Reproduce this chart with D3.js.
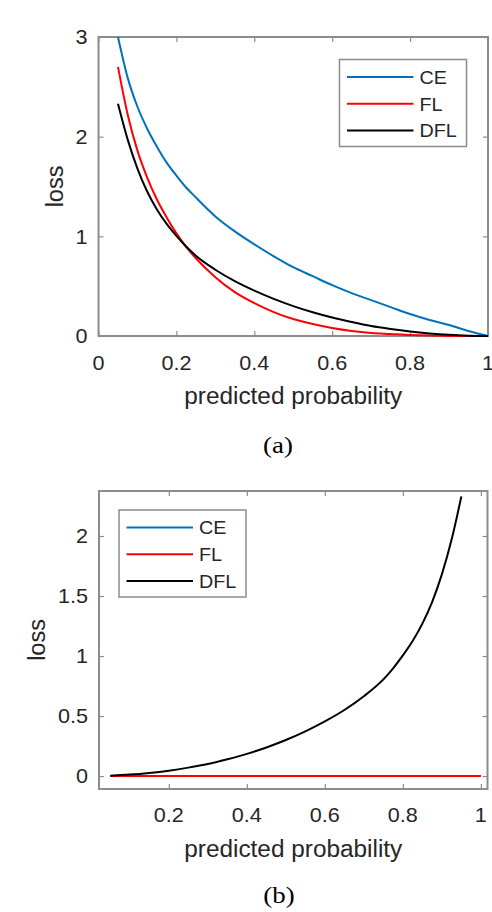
<!DOCTYPE html>
<html><head><meta charset="utf-8">
<script src="https://cdn.jsdelivr.net/npm/d3@7"></script>
<style>body{margin:0;background:#fff} svg{display:block}</style>
</head><body>
<svg id="chart" width="492" height="912"></svg>
<script>
// ---- data ----
const seriesNames = ["CE", "FL", "DFL"];
const seriesColors = ["#0072BD", "#FF0000", "#000000"];

// panel (a)
const probA = [0.05,0.075,0.1,0.125,0.15,0.175,0.2,0.225,0.25,0.3,0.35,0.4,0.45,0.5,0.55,0.6,0.65,0.7,0.75,0.8,0.85,0.9,0.95,1.0];
const ceA   = [3.00,2.59,2.30,2.08,1.90,1.74,1.61,1.49,1.39,1.20,1.05,0.92,0.80,0.69,0.60,0.51,0.43,0.36,0.29,0.22,0.16,0.11,0.05,0.00];
const flA   = [2.70,2.22,1.86,1.59,1.37,1.19,1.03,0.895,0.78,0.59,0.44,0.33,0.24,0.17,0.12,0.08,0.05,0.03,0.02,0.01,0.004,0.001,0.0,0.0];
const dflA  = [2.33,1.97,1.68,1.45,1.27,1.125,1.005,0.898,0.805,0.665,0.55,0.455,0.372,0.30,0.238,0.185,0.14,0.10,0.07,0.045,0.026,0.012,0.003,0.0];

// panel (b)
const probB = [0.05,0.1,0.15,0.2,0.25,0.3,0.35,0.4,0.45,0.5,0.55,0.6,0.65,0.7,0.75,0.775,0.8,0.825,0.85,0.875,0.9,0.925,0.95,1.0];
const ceB   = [0,0,0,0,0,0,0,0,0,0,0,0,0,0,0,0,0,0,0,0,0,0,0,0];
const flB   = [0,0,0,0,0,0,0,0,0,0,0,0,0,0,0,0,0,0,0,0,0,0,0,0];
const dflB  = [0.003,0.012,0.026,0.045,0.07,0.10,0.14,0.185,0.238,0.30,0.372,0.455,0.55,0.665,0.805,0.898,1.005,1.125,1.27,1.45,1.68,1.97,2.33,null];

const xTicksA = [0, 0.2, 0.4, 0.6, 0.8, 1];
const yTicksA = [0, 1, 2, 3];
const xTicksB = [0.2, 0.4, 0.6, 0.8, 1];
const yTicksB = [0, 0.5, 1, 1.5, 2];
const xLabel = "predicted probability";
const yLabel = "loss";
const captions = ["(a)", "(b)"];

// ---- drawing ----
const svg = d3.select("#chart");
const SANS = "'Liberation Sans', Arial, Helvetica, sans-serif";
const SERIF = "'Liberation Serif', 'Times New Roman', serif";
const AXIS_COLOR = "#8c8c8c";
const TEXT_COLOR = "#262626";

function label(g, x, y, txt, opts) {
  const o = Object.assign({size: 20, sx: 1.0, anchor: "middle", rot: 0, font: SANS, dy: "0", color: TEXT_COLOR}, opts || {});
  g.append("text")
    .attr("transform", `translate(${x},${y}) rotate(${o.rot}) scale(${o.sx},1)`)
    .attr("text-anchor", o.anchor)
    .attr("dy", o.dy)
    .attr("font-family", o.font)
    .attr("font-size", o.size)
    .attr("fill", o.color)
    .text(txt);
}

function fmt(v) { return d3.format("~g")(v); }

function panel(cfg) {
  const g = svg.append("g");
  const x = d3.scaleLinear().domain(cfg.xDomain).range([cfg.left, cfg.right]);
  const y = d3.scaleLinear().domain(cfg.yDomain).range([cfg.bottom, cfg.top]);

  // ticks on all four sides (inward)
  const tk = 5;
  const mk = (axis, tr) => g.append("g").attr("transform", tr).call(axis)
      .call(s => { s.select(".domain").remove(); s.selectAll("text").remove();
                   s.selectAll("line").attr("stroke", AXIS_COLOR).attr("stroke-width", 1.2); });
  mk(d3.axisBottom(x).tickValues(cfg.xTicks).tickSizeInner(-tk).tickSizeOuter(0), `translate(0,${cfg.bottom})`);
  mk(d3.axisTop(x).tickValues(cfg.xTicks).tickSizeInner(-tk).tickSizeOuter(0), `translate(0,${cfg.top})`);
  mk(d3.axisLeft(y).tickValues(cfg.yTicks).tickSizeInner(-tk).tickSizeOuter(0), `translate(${cfg.left},0)`);
  mk(d3.axisRight(y).tickValues(cfg.yTicks).tickSizeInner(-tk).tickSizeOuter(0), `translate(${cfg.right},0)`);

  // box
  g.append("rect").attr("x", cfg.left).attr("y", cfg.top)
    .attr("width", cfg.right - cfg.left).attr("height", cfg.bottom - cfg.top)
    .attr("fill", "none").attr("stroke", AXIS_COLOR).attr("stroke-width", 2);

  // tick labels
  cfg.xTicks.forEach(v => label(g, x(v), cfg.bottom + cfg.xTickOff, fmt(v), {size: 20, sx: 1.08}));
  cfg.yTicks.forEach(v => label(g, cfg.left - 11, y(v), fmt(v), {size: 20, sx: 1.08, anchor: "end", dy: "0.36em"}));

  // axis labels
  label(g, (cfg.left + cfg.right) / 2, cfg.bottom + cfg.xLabOff, xLabel, {size: 23, sx: 1.06});
  label(g, cfg.yLabX, (cfg.top + cfg.bottom) / 2, yLabel, {size: 23, sx: 1.02, rot: -90});

  // curves
  const line = d3.line()
    .defined(d => d[1] !== null)
    .x(d => x(d[0])).y(d => y(d[1]))
    .curve(d3.curveMonotoneX);
  cfg.series.forEach((vals, i) => {
    g.append("path")
      .datum(cfg.prob.map((p, j) => [p, vals[j]]))
      .attr("d", line)
      .attr("fill", "none")
      .attr("stroke", seriesColors[i])
      .attr("stroke-width", 2)
      .attr("stroke-linejoin", "round");
  });

  // legend
  const L = cfg.legend;
  g.append("rect").attr("x", L.x).attr("y", L.y).attr("width", L.w).attr("height", L.h)
    .attr("fill", "#fff").attr("stroke", AXIS_COLOR).attr("stroke-width", 1.5);
  seriesNames.forEach((name, i) => {
    const ly = L.y + 17.4 + i * 26.8;
    g.append("line").attr("x1", L.x + 7.5).attr("x2", L.x + 74).attr("y1", ly).attr("y2", ly)
      .attr("stroke", seriesColors[i]).attr("stroke-width", 2);
    label(g, L.x + 80, ly, name, {size: 19, sx: 1.04, anchor: "start", dy: "0.36em"});
  });

  // caption
  label(g, cfg.capX, cfg.capY, cfg.caption, {size: 24, sx: 1.12, font: SERIF, color: "#000"});
}

panel({
  left: 98.5, right: 488, top: 37, bottom: 336,
  xDomain: [0, 1], yDomain: [0, 3],
  xTicks: xTicksA, yTicks: yTicksA,
  xTickOff: 34, xLabOff: 68.3, yLabX: 63,
  prob: probA, series: [ceA, flA, dflA],
  legend: {x: 339.5, y: 59.5, w: 127, h: 87},
  caption: captions[0], capX: 278, capY: 452.5
});

panel({
  left: 99, right: 487.5, top: 491, bottom: 789,
  xDomain: [0.021, 1.017], yDomain: [-0.108, 2.375],
  xTicks: xTicksB, yTicks: yTicksB,
  xTickOff: 33, xLabOff: 68, yLabX: 45,
  prob: probB, series: [ceB, flB, dflB],
  legend: {x: 119, y: 510, w: 127, h: 87},
  caption: captions[1], capX: 279, capY: 903
});
</script>
</body></html>
